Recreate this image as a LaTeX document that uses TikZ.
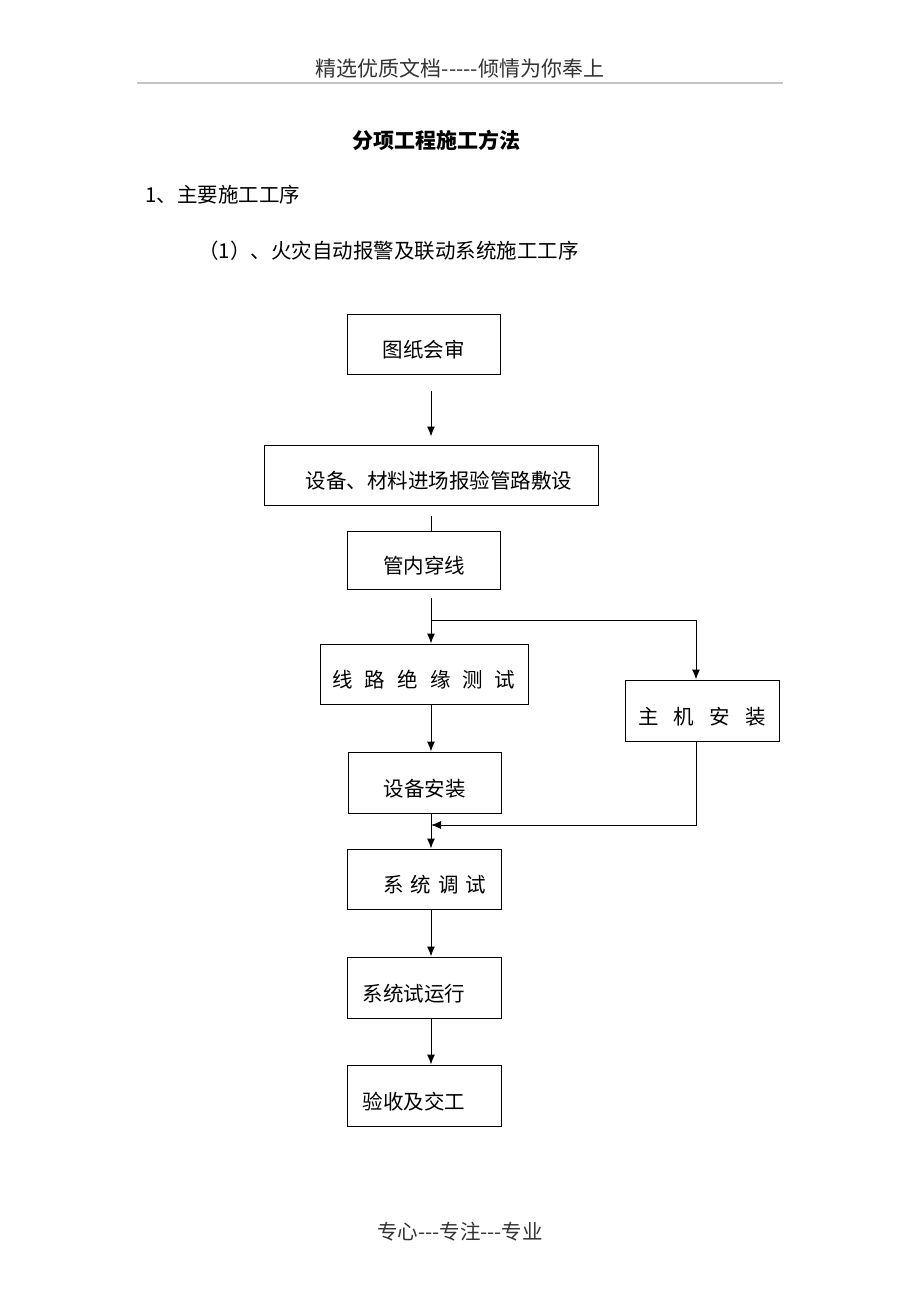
\documentclass[tikz,border=0pt]{standalone}
\usepackage{fontspec}
\setmainfont{Noto Sans CJK SC}[Ligatures=TeXOff]
\usetikzlibrary{arrows.meta}
\newcommand{\dn}[1]{\raisebox{-6pt}[\height][\depth]{#1}}
\begin{document}
\begin{tikzpicture}[x=1pt,y=-1pt,
  box/.style={draw,line width=1pt,inner sep=0pt,font=\fontsize{20.5}{24}\selectfont},
  arr/.style={line width=1pt,-{Latex[length=10pt,width=8pt]}},
  ln/.style={line width=1pt},
  txt/.style={inner sep=0pt,font=\fontsize{20.5}{24}\selectfont}]
\path[use as bounding box,fill=white] (0,0) rectangle (920,1302);
% header and footer
\node[txt,text=black!80,font=\fontsize{21}{24}\selectfont] (hd) at (460,68) {精选优质文档-----倾情为你奉上};
\draw[gray!45,line width=2pt] (137,83) -- (783,83);
\node[txt,font=\fontsize{21}{24}\selectfont\bfseries] (title) at (436,140) {分项工程施工方法};
\node[txt,anchor=west] (s1) at (145,195) {1、主要施工工序};
\node[txt,anchor=west] (s2) at (198,251) {（1）、火灾自动报警及联动系统施工工序};
\node[txt,text=black!80] (ft) at (460,1232) {专心---专注---专业};
% boxes
\node[box,minimum width=153pt,minimum height=60pt] (b1) at (423.5,344) {\dn{图纸会审}};
\node[box,minimum width=334pt,minimum height=60pt] (b2) at (431,475) {\dn{\hspace{16pt}设备、材料进场报验管路敷设}};
\node[box,minimum width=153pt,minimum height=58pt] (b3) at (424,560) {\dn{管内穿线}};
\node[box,minimum width=208pt,minimum height=60pt] (b4) at (424,674) {\dn{线\hspace{12pt}路\hspace{12pt}绝\hspace{12pt}缘\hspace{12pt}测\hspace{12pt}试}};
\node[box,minimum width=154pt,minimum height=61pt] (b5) at (702,710.5) {\dn{主\hspace{15pt}机\hspace{15pt}安\hspace{15pt}装}};
\node[box,minimum width=153pt,minimum height=61pt] (b6) at (424.5,782.5) {\dn{设备安装}};
\node[box,minimum width=154pt,minimum height=60pt] (b7) at (424,879) {\dn{\hspace{22pt}系\hspace{7pt}统\hspace{7pt}调\hspace{7pt}试}};
\node[box,minimum width=154pt,minimum height=61pt] (b8) at (424,987.5) {\dn{系统试运行\hspace{20pt}}};
\node[box,minimum width=154pt,minimum height=61pt] (b9) at (424,1095.5) {\dn{验收及交工\hspace{20pt}}};
% connector helpers
\coordinate (cx) at (431,0);
\coordinate (rx) at (696,0);
\coordinate (br) at (431,620);
\coordinate (mg) at (431,825);
% connectors
\draw[arr,shorten <=16pt,shorten >=8pt] (b1.south -| cx) -- (b2.north -| cx);
\draw[ln,shorten <=10pt] (b2.south -| cx) -- (b3.north -| cx);
\draw[arr,shorten <=8pt] (b3.south -| cx) -- (b4.north -| cx);
\draw[arr] (br) -| (b5.north -| rx);
\draw[arr] (b4.south -| cx) -- (b6.north -| cx);
\draw[arr] (b5.south -| rx) |- (mg);
\draw[arr] (b6.south -| cx) -- (b7.north -| cx);
\draw[arr] (b7.south -| cx) -- (b8.north -| cx);
\draw[arr] (b8.south -| cx) -- (b9.north -| cx);
\end{tikzpicture}
\end{document}
